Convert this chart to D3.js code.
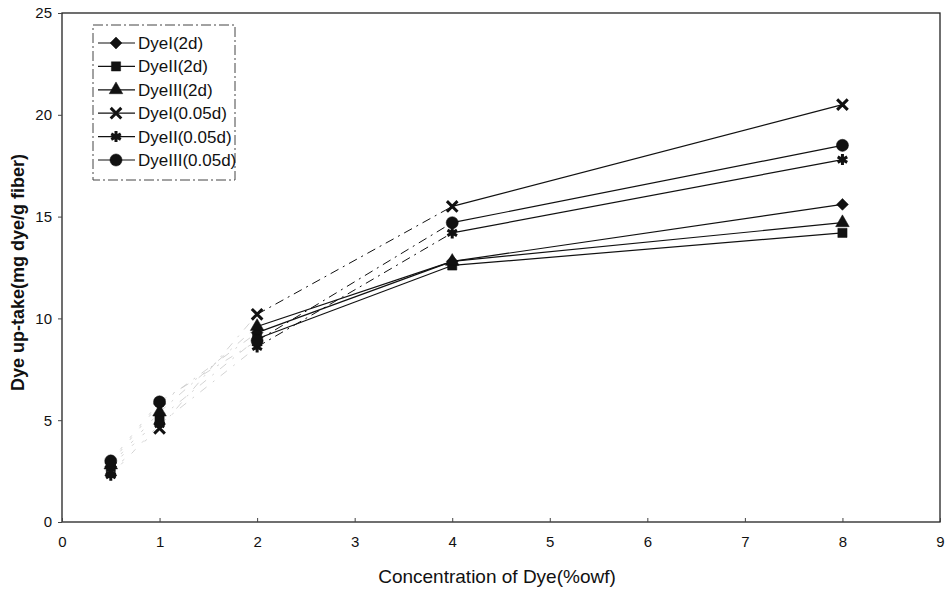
<!DOCTYPE html>
<html>
<head>
<meta charset="utf-8">
<script src="https://cdn.jsdelivr.net/npm/d3@7"></script>
<style>
  body { margin: 0; background: #fff; }
  text { font-family: "Liberation Sans Narrow", "Arial Narrow", "Liberation Sans", sans-serif; fill: #111; }
</style>
</head>
<body>
<div id="chart"></div>
<script>
// x positions (% owf) and dye uptake for each series
const concentrations = [0.5, 1, 2, 4, 8];
const seriesNames = ["DyeI(2d)", "DyeII(2d)", "DyeIII(2d)", "DyeI(0.05d)", "DyeII(0.05d)", "DyeIII(0.05d)"];
const dyeI_2d    = [2.9, 5.8, 9.3, 12.8, 15.6];
const dyeII_2d   = [2.7, 5.1, 9.0, 12.6, 14.2];
const dyeIII_2d  = [2.8, 5.4, 9.6, 12.8, 14.7];
const dyeI_005   = [2.5, 4.6, 10.2, 15.5, 20.5];
const dyeII_005  = [2.3, 4.8, 8.6, 14.2, 17.8];
const dyeIII_005 = [3.0, 5.9, 8.9, 14.7, 18.5];
const xTicks = [0, 1, 2, 3, 4, 5, 6, 7, 8, 9];
const yTicks = [0, 5, 10, 15, 20, 25];

const seriesValues = [dyeI_2d, dyeII_2d, dyeIII_2d, dyeI_005, dyeII_005, dyeIII_005];

const width = 946, height = 589;
const margin = { top: 13, right: 6, bottom: 67, left: 62 };
const w = width - margin.left - margin.right;
const h = height - margin.top - margin.bottom;

const svg = d3.select("#chart").append("svg")
  .attr("width", width).attr("height", height);
const g = svg.append("g").attr("transform", `translate(${margin.left},${margin.top})`);

const x = d3.scaleLinear().domain([0, 9]).range([0, w]);
const y = d3.scaleLinear().domain([0, 25]).range([h, 0]);

// marker shapes per series (diamond = rotated square)
const symbols = [
  { type: d3.symbolSquare, size: 70, stroke: false, rot: 45 },
  { type: d3.symbolSquare, size: 85, stroke: false, rot: 0 },
  { type: d3.symbolTriangle, size: 80, stroke: false, rot: 0 },
  { type: d3.symbolTimes, size: 75, stroke: true, rot: 0 },
  { type: d3.symbolAsterisk, size: 85, stroke: true, rot: 0 },
  { type: d3.symbolCircle, size: 115, stroke: false, rot: 0 }
];

function drawMarker(sel, i) {
  const s = symbols[i];
  sel.append("path")
    .attr("d", d3.symbol().type(s.type).size(s.size)())
    .attr("transform", `rotate(${s.rot})`)
    .attr("fill", s.stroke ? "none" : "#111")
    .attr("stroke", "#111")
    .attr("stroke-width", s.stroke ? 3 : 0.5);
}

// frame
g.append("rect").attr("width", w).attr("height", h)
  .attr("fill", "none").attr("stroke", "#222").attr("stroke-width", 1.3);

// axes
const xAxis = g.append("g").attr("transform", `translate(0,${h})`)
  .call(d3.axisBottom(x).tickValues(xTicks).tickSize(-4).tickPadding(14).tickFormat(d3.format("d")));
const yAxis = g.append("g")
  .call(d3.axisLeft(y).tickValues(yTicks).tickSize(4).tickPadding(6));
[xAxis, yAxis].forEach(a => {
  a.select(".domain").remove();
  a.selectAll("line").attr("stroke", "#444");
  a.selectAll("text").style("font-size", "15px")
    .style("font-family", "'Liberation Sans', sans-serif").attr("fill", "#111");
});

// lines drawn segment by segment (early segments are faint in the scan)
seriesValues.forEach((vals, si) => {
  for (let k = 0; k < vals.length - 1; k++) {
    let stroke = "#111", dash = null, sw = 1.2;
    if (k < 2) { stroke = "#c8c8c8"; dash = k === 0 ? "3,12" : "8,8,2,8"; sw = 0.8; }
    else if (k === 2 && si >= 3) { dash = "9,5,2,5"; sw = 1.0; }
    g.append("line")
      .attr("x1", x(concentrations[k])).attr("y1", y(vals[k]))
      .attr("x2", x(concentrations[k + 1])).attr("y2", y(vals[k + 1]))
      .attr("stroke", stroke).attr("stroke-width", sw)
      .attr("stroke-dasharray", dash);
  }
});

// markers
seriesValues.forEach((vals, si) => {
  g.selectAll(null).data(vals).enter().append("g")
    .attr("transform", (d, k) => `translate(${x(concentrations[k])},${y(d)})`)
    .each(function () { drawMarker(d3.select(this), si); });
});

// legend
const legend = g.append("g").attr("transform", "translate(31,12)");
legend.append("rect").attr("width", 142).attr("height", 155)
  .attr("fill", "#fff").attr("stroke", "#444").attr("stroke-width", 1)
  .attr("stroke-dasharray", "10,3,2,3");
seriesNames.forEach((name, i) => {
  const row = legend.append("g").attr("transform", `translate(0,${18 + i * 23.4})`);
  row.append("line").attr("x1", 5).attr("x2", 42).attr("stroke", "#111").attr("stroke-width", 1.2);
  const m = row.append("g").attr("transform", "translate(23,0)");
  drawMarker(m, i);
  row.append("text").attr("x", 45).attr("y", 6).style("font-size", "17px").text(name);
});

// axis titles
svg.append("text")
  .attr("x", margin.left + w / 2 - 4).attr("y", 583)
  .attr("text-anchor", "middle").style("font-size", "19px")
  .text("Concentration of Dye(%owf)");
svg.append("text")
  .attr("transform", `translate(24,${margin.top + h / 2 + 5}) rotate(-90)`)
  .attr("text-anchor", "middle").style("font-size", "18px").style("font-weight", "bold")
  .style("font-family", "'Liberation Sans', sans-serif")
  .text("Dye up-take(mg dye/g fiber)");
</script>
</body>
</html>
